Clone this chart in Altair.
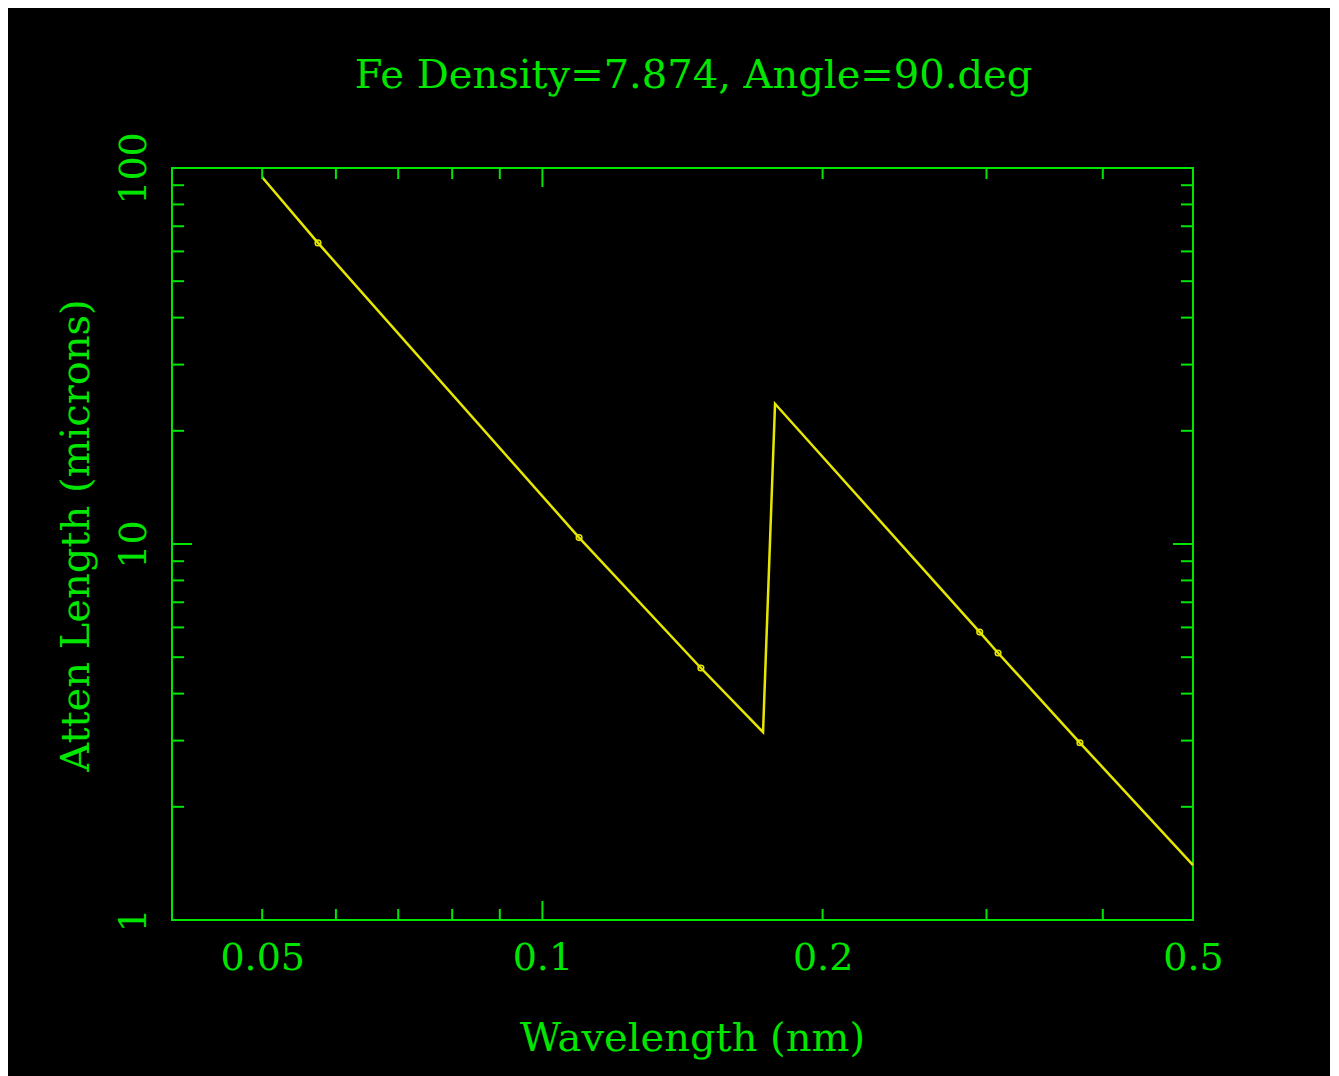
import altair as alt
import pandas as pd

# ---- data ----
wavelength = [0.05, 0.0574, 0.1095, 0.148, 0.1726, 0.1778, 0.295, 0.3087, 0.378, 0.5]
atten = [94.5, 63.2, 10.4, 4.68, 3.16, 23.6, 5.83, 5.13, 2.96, 1.40]

marker_wavelength = [0.0574, 0.1095, 0.148, 0.295, 0.3087, 0.378]
marker_atten = [63.2, 10.4, 4.68, 5.83, 5.13, 2.96]

x_labels = [0.05, 0.1, 0.2, 0.5]
y_labels = [1, 10, 100]
x_minor = [0.05, 0.06, 0.07, 0.08, 0.09, 0.2, 0.3, 0.4]
x_major = [0.1]
y_minor = [2, 3, 4, 5, 6, 7, 8, 9, 20, 30, 40, 50, 60, 70, 80, 90]
y_major = [10]

title = "Fe Density=7.874, Angle=90.deg"
x_title = "Wavelength (nm)"
y_title = "Atten Length (microns)"

GREEN = "#00e600"
YELLOW = "#e6e600"
FONT = "DejaVu Serif"
W, H = 1021, 752

line_df = pd.DataFrame({"wl": wavelength, "att": atten})
mark_df = pd.DataFrame({"wl": marker_wavelength, "att": marker_atten})
xmin_df = pd.DataFrame({"v": x_minor})
xmaj_df = pd.DataFrame({"v": x_major})
ymin_df = pd.DataFrame({"v": y_minor})
ymaj_df = pd.DataFrame({"v": y_major})

xscale = alt.Scale(type="log", domain=[0.04, 0.5], nice=False)
yscale = alt.Scale(type="log", domain=[1, 100], nice=False)

x_enc = alt.X(
    "wl:Q", scale=xscale,
    axis=alt.Axis(
        title=x_title, values=x_labels, format="~g", grid=False, ticks=False, domain=False,
        labelColor=GREEN, labelFont=FONT, labelFontSize=38, labelPadding=19,
        titleColor=GREEN, titleFont=FONT, titleFontSize=40, titleFontWeight="normal",
        titleX=520, titleY=130, titleBaseline="alphabetic", labelFlush=False,
    ),
)
y_enc = alt.Y(
    "att:Q", scale=yscale,
    axis=alt.Axis(
        title=y_title, values=y_labels, format="~g", grid=False, ticks=False, domain=False,
        labelColor=GREEN, labelFont=FONT, labelFontSize=38, labelAngle=-90,
        labelAlign="center", labelBaseline="alphabetic", labelPadding=27, labelFlush=False,
        titleColor=GREEN, titleFont=FONT, titleFontSize=40, titleFontWeight="normal",
        titleX=-84, titleY=367, titleBaseline="alphabetic", titleAngle=-90,
    ),
)

line = alt.Chart(line_df).mark_line(color=YELLOW, strokeWidth=2.5).encode(x=x_enc, y=y_enc)
points = alt.Chart(mark_df).mark_point(
    shape="circle", filled=False, size=32, color=YELLOW, strokeWidth=1.5, opacity=1
).encode(x=alt.X("wl:Q", scale=xscale), y=alt.Y("att:Q", scale=yscale))


def xticks(df, length):
    bottom = alt.Chart(df).mark_rule(color=GREEN, strokeWidth=2).encode(
        x=alt.X("v:Q", scale=xscale), y=alt.value(H), y2=alt.value(H - length))
    top = alt.Chart(df).mark_rule(color=GREEN, strokeWidth=2).encode(
        x=alt.X("v:Q", scale=xscale), y=alt.value(0), y2=alt.value(length))
    return [bottom, top]


def yticks(df, length):
    left = alt.Chart(df).mark_rule(color=GREEN, strokeWidth=2).encode(
        y=alt.Y("v:Q", scale=yscale), x=alt.value(0), x2=alt.value(length))
    right = alt.Chart(df).mark_rule(color=GREEN, strokeWidth=2).encode(
        y=alt.Y("v:Q", scale=yscale), x=alt.value(W), x2=alt.value(W - length))
    return [left, right]


layers = [line, points] + xticks(xmin_df, 11) + xticks(xmaj_df, 19) + yticks(ymin_df, 12) + yticks(ymaj_df, 20)

chart = alt.layer(*layers).properties(
    width=W, height=H,
    background="black",
    padding={"left": 164, "top": 160, "right": 137, "bottom": 156},
    autosize=alt.AutoSizeParams(type="none"),
    title=alt.TitleParams(
        text=title, color=GREEN, font=FONT, fontSize=40, fontWeight="normal",
        anchor="middle", frame="group", baseline="alphabetic", offset=4, dx=11,
    ),
).configure_view(stroke=GREEN, strokeWidth=2)

chart.save("out.html", embed_options={"renderer": "svg", "actions": False})
